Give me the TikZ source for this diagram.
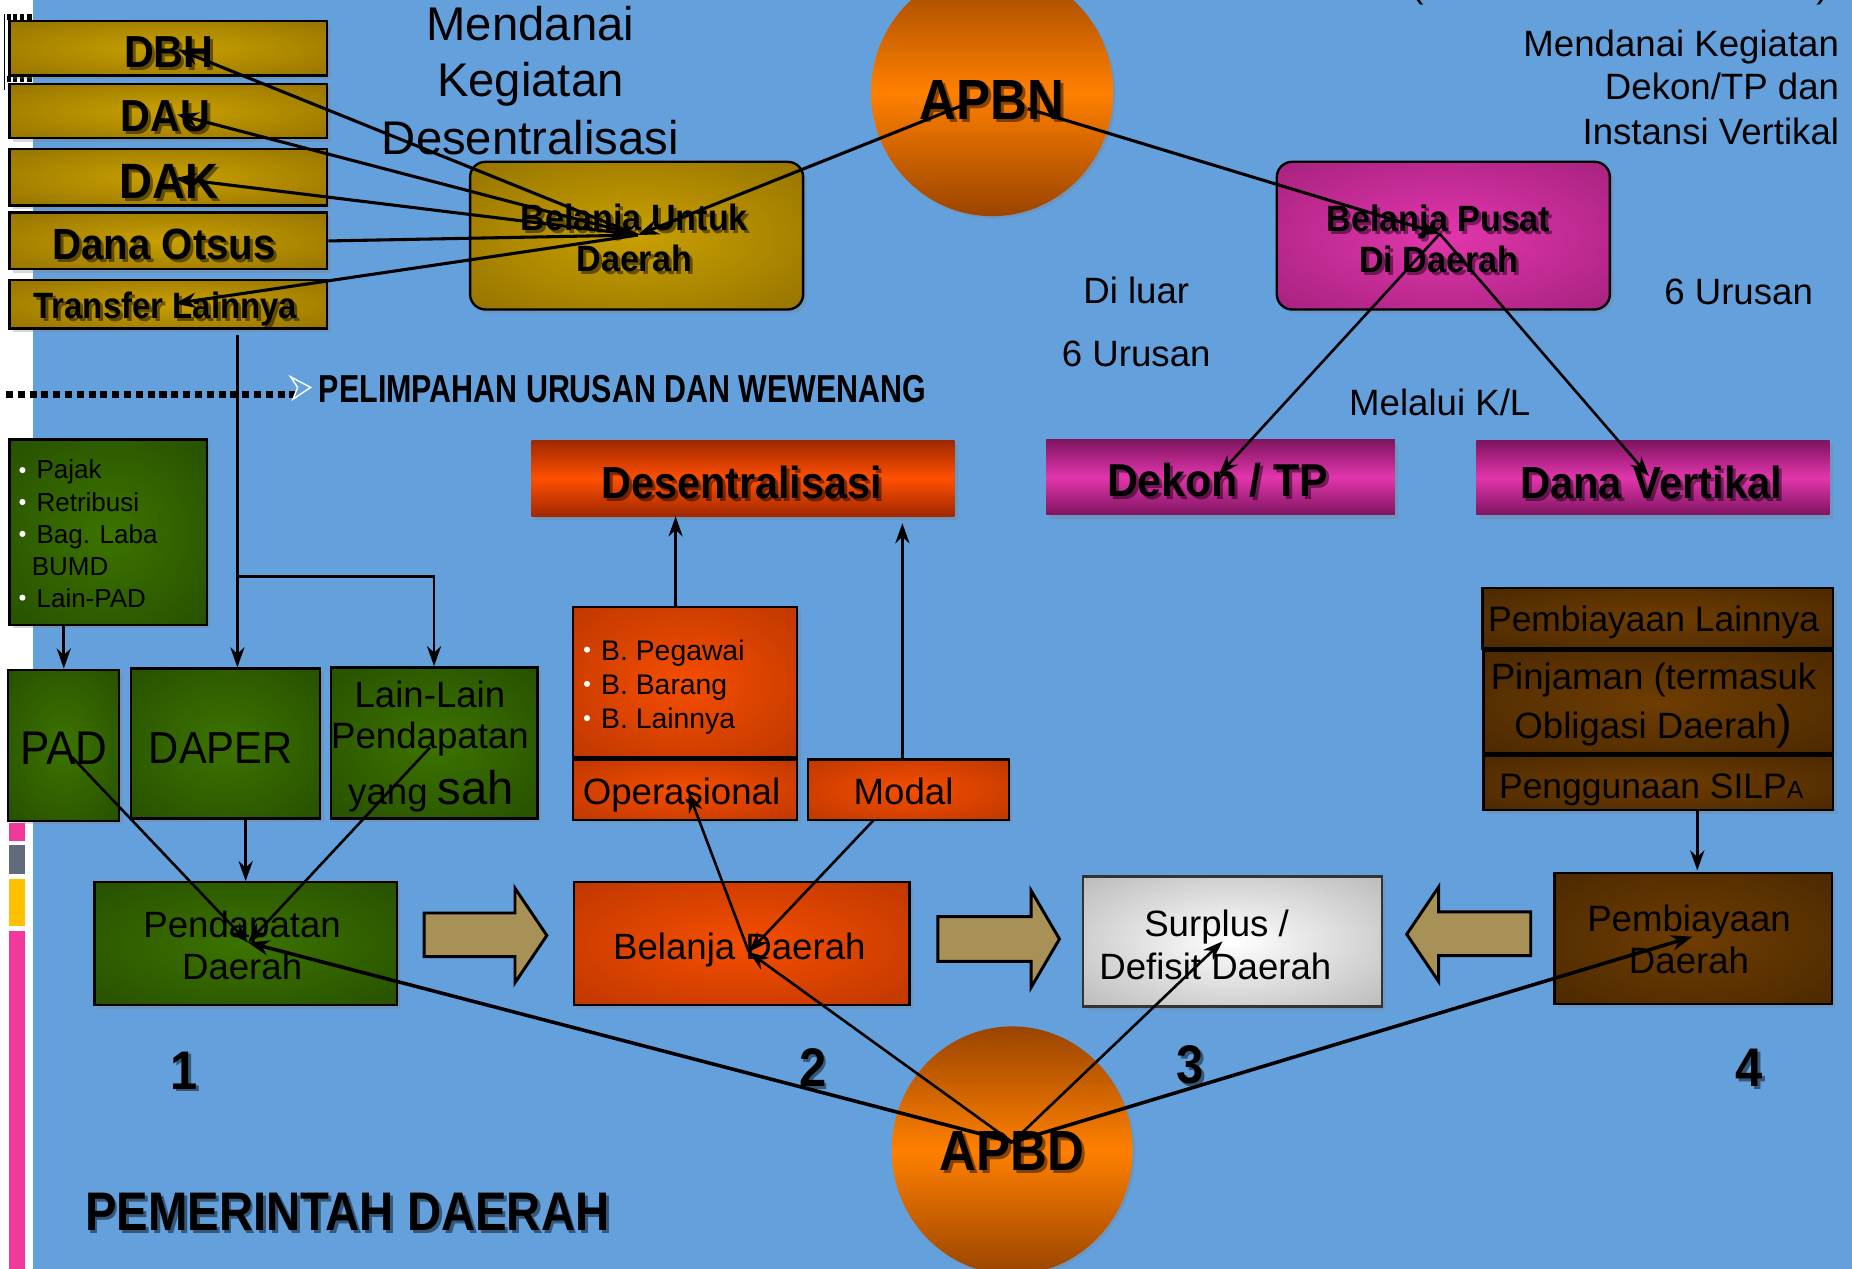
\documentclass[tikz,border=0pt]{standalone}
\usepackage{fontspec}
\setmainfont{Liberation Sans}
\usepackage{graphicx}
\usetikzlibrary{shadows,arrows.meta,calc,shapes.geometric}

\definecolor{bgblue}{HTML}{64A0DC}
\definecolor{goldC}{HTML}{C9A000}
\definecolor{goldE}{HTML}{7A5C00}
\definecolor{greenC}{HTML}{3C7300}
\definecolor{greenE}{HTML}{1C3E00}
\definecolor{oranC}{HTML}{F54E00}
\definecolor{oranE}{HTML}{9A2800}
\definecolor{brownC}{HTML}{6E3D02}
\definecolor{brownE}{HTML}{3A1E00}
\definecolor{magC}{HTML}{E236AC}
\definecolor{magE}{HTML}{7E1460}
\definecolor{greyC}{HTML}{FFFFFF}
\definecolor{greyE}{HTML}{8C8C8C}
\definecolor{ellC}{HTML}{FF8000}
\definecolor{ellE}{HTML}{9A4400}
\definecolor{desC}{HTML}{FF5000}
\definecolor{desE}{HTML}{A02800}
\definecolor{tan}{HTML}{A89157}
\definecolor{barpink}{HTML}{F0399A}
\definecolor{bargrey}{HTML}{5F6B7A}
\definecolor{baryel}{HTML}{FFC000}

\pgfdeclareradialshading{goldglow}{\pgfpoint{0bp}{0bp}}{color(0bp)=(goldC); color(55bp)=(goldE); color(80bp)=(goldE)}
\pgfdeclareradialshading{greenglow}{\pgfpoint{0bp}{0bp}}{color(0bp)=(greenC); color(55bp)=(greenE); color(80bp)=(greenE)}
\pgfdeclareradialshading{oranglow}{\pgfpoint{0bp}{0bp}}{color(0bp)=(oranC); color(60bp)=(oranE); color(80bp)=(oranE)}
\pgfdeclareradialshading{brownglow}{\pgfpoint{0bp}{0bp}}{color(0bp)=(brownC); color(55bp)=(brownE); color(80bp)=(brownE)}
\pgfdeclareradialshading{magglow}{\pgfpoint{0bp}{0bp}}{color(0bp)=(magC); color(60bp)=(magE); color(80bp)=(magE)}
\pgfdeclareradialshading{greyglow}{\pgfpoint{0bp}{0bp}}{color(0bp)=(greyC); color(60bp)=(greyE); color(80bp)=(greyE)}

\newcommand\fsz[1]{\fontsize{#1}{#1}\selectfont}
% shadowed label: [opts]{name}{x}{y}{text}
\newcommand\shl[5][]{%
  \node[tx,#1,text=black,opacity=0.45] at (#3+2.5,#4+2.5) {#5};
  \node[tx,#1] (#2) at (#3,#4) {#5};}

\tikzset{
  tx/.style={anchor=base, inner sep=0pt, outer sep=0pt},
  boxbase/.style={rectangle, draw=black, line width=2pt, inner sep=0pt, shade,
     drop shadow={opacity=0.3, shadow xshift=3pt, shadow yshift=-3pt}},
  goldbox/.style={boxbase, shading=goldglow},
  greenbox/.style={boxbase, shading=greenglow},
  oranbox/.style={boxbase, shading=oranglow},
  brownbox/.style={boxbase, shading=brownglow},
  magbox/.style={boxbase, shading=magglow},
  greybox/.style={boxbase, shading=greyglow, draw=black!80},
  bandbox/.style={rectangle, inner sep=0pt, draw=none,
     drop shadow={opacity=0.3, shadow xshift=3pt, shadow yshift=-3pt}},
  magband/.style={bandbox, top color=magE, bottom color=magE, middle color=magC},
  desband/.style={bandbox, top color=desE, bottom color=desE, middle color=desC},
  ellnode/.style={ellipse, inner sep=0pt, top color=ellE, bottom color=ellE, middle color=ellC,
     drop shadow={opacity=0.3, shadow xshift=2pt, shadow yshift=-2pt}},
  blockarrow/.style={fill=tan, draw=black, line width=2.5pt, line join=miter},
  conn/.style={line width=2.6pt, -{Stealth[length=18pt,width=13pt]}},
  conn2/.style={line width=2.2pt, -{Stealth[length=17pt,width=12pt]}},
  connB/.style={line width=3pt, -{Stealth[length=18pt,width=13pt]}},
}

\begin{document}
\begin{tikzpicture}[x=1pt,y=-1pt]
\path[use as bounding box] (0,0) rectangle (1568,1074);
\clip (0,0) rectangle (1568,1074);
\fill[bgblue] (0,0) rectangle (1568,1074);
\fill[white] (0,0) rectangle (28,1074);
% left bars
\fill[barpink] (8,697) rectangle (21,712);
\fill[bargrey] (8,715) rectangle (21,740);
\fill[baryel] (8,744) rectangle (21,784);
\fill[barpink] (8,788) rectangle (21,1074);
% top-left marks
\draw[line width=0.8pt] (4,12) -- (4,76);
\foreach \yy in {12,64}{
  \fill (6,\yy) rectangle (9,\yy+5);
  \fill (11,\yy) rectangle (14,\yy+5);
  \fill (17,\yy) rectangle (20,\yy+5);
  \fill (23,\yy) rectangle (27,\yy+5);}
% partial top line of text
\node[tx,font=\fsz{31}] (parL) at (1200,-2) {(};
\node[tx,font=\fsz{31}] (parR) at (1543,-2) {)};

% ---------- top texts
\node[tx,font=\fsz{40}] (md1) at (449,34) {Mendanai};
\node[tx,font=\fsz{40}] (md2) at (449,82) {Kegiatan};
\node[tx,font=\fsz{40}] (md3) at (449,131) {Desentralisasi};
\node[tx,font=\fsz{31},anchor=base east] (mr1) at (1557,48) {Mendanai Kegiatan};
\node[tx,font=\fsz{31},anchor=base east] (mr2) at (1557,84) {Dekon/TP dan};
\node[tx,font=\fsz{31},anchor=base east] (mr3) at (1557,122) {Instansi Vertikal};
\node[tx,font=\fsz{31}] (dl1) at (962,257) {Di luar};
\node[tx,font=\fsz{31}] (dl2) at (962,310) {6 Urusan};
\node[tx,font=\fsz{31}] (ur6) at (1472,258) {6 Urusan};
\node[tx,font=\fsz{31}] (mkl) at (1219,352) {Melalui K/L};

% ---------- gold boxes
\node[goldbox, minimum width=269, minimum height=46] (dbh) at (142.5,41) {};
\node[goldbox, minimum width=269, minimum height=46] (dau) at (142.5,94) {};
\node[goldbox, minimum width=269, minimum height=48] (dak) at (142.5,150) {};
\node[goldbox, minimum width=269, minimum height=48] (otsus) at (142.5,204) {};
\node[goldbox, minimum width=269, minimum height=41] (trf) at (142.5,257.5) {};
\shl[font=\bfseries\fsz{38}]{ldbh}{143}{57}{\scalebox{0.92}[1]{DBH}}
\shl[font=\bfseries\fsz{38}]{ldau}{140}{111}{\scalebox{0.92}[1]{DAU}}
\shl[font=\bfseries\fsz{42}]{ldak}{143}{168}{\scalebox{0.92}[1]{DAK}}
\shl[font=\bfseries\fsz{37}]{lots}{139}{220}{\scalebox{0.92}[1]{Dana Otsus}}
\shl[font=\bfseries\fsz{31}]{ltrf}{140}{270}{\scalebox{0.9}[1]{Transfer Lainnya}}

\node[goldbox, rounded corners=13, minimum width=282, minimum height=125] (bud) at (539,199.5) {};
\shl[font=\bfseries\fsz{31}]{lbud1}{537}{195}{\scalebox{0.93}[1]{Belanja Untuk}}
\shl[font=\bfseries\fsz{31}]{lbud2}{537}{230}{\scalebox{0.93}[1]{Daerah}}

% APBN
\node[ellnode, minimum width=205, minimum height=210] (apbn) at (840,78) {};
\shl[font=\bfseries\fsz{48}]{lapbn}{840}{101}{\scalebox{0.9}[1]{APBN}}

% Belanja pusat
\node[magbox, rounded corners=13, minimum width=282, minimum height=125] (bpus) at (1222,199.5) {};
\shl[font=\bfseries\fsz{31}]{lbp1}{1218}{196}{\scalebox{0.93}[1]{Belanja Pusat}}
\shl[font=\bfseries\fsz{31}]{lbp2}{1218}{231}{\scalebox{0.93}[1]{Di Daerah}}

\node[magband, minimum width=295, minimum height=64] (dekon) at (1033.5,404) {};
\shl[font=\bfseries\fsz{39}]{ldek}{1031}{420}{\scalebox{0.93}[1]{Dekon / TP}}
\node[magband, minimum width=299, minimum height=63] (dver) at (1399.5,404.5) {};
\shl[font=\bfseries\fsz{38}]{ldv}{1398}{422}{\scalebox{0.93}[1]{Dana Vertikal}}

% dotted line
\draw[line width=6pt, dash pattern=on 6pt off 4pt] (5,334) -- (250,334);
\draw[white, line width=1.2pt, fill=bgblue] (246,319) -- (263,328) -- (248,338) -- (252,328) -- cycle;
\node[tx,font=\bfseries\fsz{33},anchor=base west] (pel) at (270,341) {\scalebox{0.78}[1]{PELIMPAHAN URUSAN DAN WEWENANG}};

% ---------- green
\node[greenbox, minimum width=167, minimum height=157] (pajak) at (91.5,450.5) {};
\foreach \yy in {398,425,452,506} \fill[white] (19,\yy) circle (2.6);
\node[tx,font=\fsz{22},anchor=base west] (pj1) at (31,405) {Pajak};
\node[tx,font=\fsz{22},anchor=base west] (pj2) at (31,433) {Retribusi};
\node[tx,font=\fsz{22},anchor=base west] (pj3) at (31,460) {Bag. Laba};
\node[tx,font=\fsz{22},anchor=base west] (pj4) at (27,487) {BUMD};
\node[tx,font=\fsz{22},anchor=base west] (pj5) at (31,514) {Lain-PAD};

\node[greenbox, minimum width=94, minimum height=128] (pad) at (54,631) {};
\node[tx,font=\fsz{40}] (lpad) at (54,647) {\scalebox{0.93}[1]{PAD}};
\node[greenbox, minimum width=160, minimum height=127] (daper) at (191,629.5) {};
\node[tx,font=\fsz{38}] (ldaper) at (187,646) {\scalebox{0.93}[1]{DAPER}};
\node[greenbox, minimum width=175, minimum height=128] (lain) at (367.5,629) {};
\node[tx,font=\fsz{31}] (ll1) at (364,599) {Lain-Lain};
\node[tx,font=\fsz{31}] (ll2) at (364,634) {Pendapatan};
\node[tx] (ll3) at (365,681) {{\fsz{31}yang }{\fsz{40}sah}};

\node[greenbox, minimum width=256, minimum height=104] (pend) at (208,799) {};
\node[tx,font=\fsz{31}] (pd1) at (205,794) {Pendapatan};
\node[tx,font=\fsz{31}] (pd2) at (205,829) {Daerah};

% ---------- orange
\node[desband, minimum width=358, minimum height=64] (desen) at (629,405) {};
\shl[font=\bfseries\fsz{38}]{ldes}{628}{422}{\scalebox{0.92}[1]{Desentralisasi}}
\node[oranbox, minimum width=190, minimum height=127] (bpeg) at (580,577.5) {};
\foreach \yy in {550,579,608} \fill[white] (497,\yy) circle (2.6);
\node[tx,font=\fsz{24},anchor=base west] (bl1) at (509,559) {B. Pegawai};
\node[tx,font=\fsz{24},anchor=base west] (bl2) at (509,588) {B. Barang};
\node[tx,font=\fsz{24},anchor=base west] (bl3) at (509,617) {B. Lainnya};
\node[oranbox, minimum width=190, minimum height=51] (oper) at (580,668.5) {};
\node[tx,font=\fsz{31}] (lop) at (577,681) {Operasional};
\node[oranbox, minimum width=170, minimum height=51] (modal) at (769,668.5) {};
\node[tx,font=\fsz{31}] (lmo) at (765,681) {Modal};
\node[oranbox, minimum width=284, minimum height=104] (bel) at (628,799) {};
\node[tx,font=\fsz{31}] (lbel) at (626,812) {Belanja Daerah};

% ---------- grey
\node[greybox, minimum width=253, minimum height=110] (surp) at (1043.5,797) {};
\node[tx,font=\fsz{31}] (ls1) at (1030,793) {Surplus /};
\node[tx,font=\fsz{31}] (ls2) at (1029,829) {Defisit Daerah};

% ---------- brown
\node[brownbox, minimum width=297, minimum height=51] (plain) at (1403.5,523.5) {};
\node[tx,font=\fsz{30}] (lpl) at (1400,535) {Pembiayaan Lainnya};
\node[brownbox, minimum width=296, minimum height=87] (pinj) at (1404,594.5) {};
\node[tx,font=\fsz{31}] (lpj1) at (1400,584) {Pinjaman (termasuk};
\node[tx] (lpj2) at (1400,625) {{\fsz{31}Obligasi Daerah}{\fsz{40})}};
\node[brownbox, minimum width=296, minimum height=46] (silpa) at (1404,663) {};
\node[tx] (lsil) at (1398,676) {{\fsz{30}Penggunaan SILP}{\fsz{21}A}};
\node[brownbox, minimum width=235, minimum height=111] (pemb) at (1433.5,794.5) {};
\node[tx,font=\fsz{31}] (lpm1) at (1430,789) {Pembiayaan};
\node[tx,font=\fsz{31}] (lpm2) at (1430,824) {Daerah};

% ---------- block arrows
\draw[blockarrow] (359,773) -- (436,773) -- (436,752) -- (463,792) -- (436,832) -- (436,810) -- (359,810) -- cycle;
\draw[blockarrow] (794,776) -- (873,776) -- (873,754) -- (897,795) -- (873,836) -- (873,814) -- (794,814) -- cycle;
\draw[blockarrow] (1296,772) -- (1218,772) -- (1218,751) -- (1191,791) -- (1218,831) -- (1218,809) -- (1296,809) -- cycle;

% numbers
\shl[font=\bfseries\fsz{46}]{n1}{156}{922}{\scalebox{0.9}[1]{1}}
\shl[font=\bfseries\fsz{46}]{n2}{688}{920}{\scalebox{0.9}[1]{2}}
\shl[font=\bfseries\fsz{46}]{n3}{1008}{917}{\scalebox{0.9}[1]{3}}
\shl[font=\bfseries\fsz{46}]{n4}{1481}{920}{\scalebox{0.9}[1]{4}}

% APBD
\node[ellnode, minimum width=204, minimum height=210] (apbd) at (857,974) {};
\shl[font=\bfseries\fsz{48}]{lapbd}{857}{991}{\scalebox{0.9}[1]{APBD}}

\shl[font=\bfseries\fsz{46},anchor=base west]{pemda}{72}{1042}{\scalebox{0.87}[1]{PEMERINTAH DAERAH}}

% ---------- connectors
\coordinate (hubU) at (540,199);
\coordinate (tDBH) at (151,42);
\coordinate (tDAU) at (150,97);
\coordinate (tDAK) at (148,151);
\coordinate (tTRF) at (148,257);
\coordinate (apbnL) at (823,86);
\coordinate (apbnR) at (870,92);
\coordinate (hubP) at (1219,198);
\coordinate (tDEK) at (1032,402);
\coordinate (tDVR) at (1396,403);
\draw[conn] (hubU) -- (tDBH);
\draw[conn] (hubU) -- (tDAU);
\draw[conn] (hubU) -- (tDAK);
\draw[conn] (hubU) -- (tTRF);
\draw[line width=2.6pt] (hubU) -- (otsus.east);
\draw[conn] (apbnL) -- (hubU);
\draw[conn] (apbnR) -- (hubP);
\draw[conn2] (hubP) -- (tDEK);
\draw[conn2] (hubP) -- (tDVR);

\coordinate (trf0) at (201,284);
\coordinate (jn) at (201,488);
\draw[conn2] (trf0) -- (trf0 |- daper.north);
\draw[conn2] (jn) -| (lain.north);
\draw[conn2] (pajak.south -| pad.north) -- (pad.north);
\draw[conn2] (pend.north |- daper.south) -- (pend.north);
\coordinate (bp0) at (572,514);
\draw[conn2] (bp0) -- (bp0 |- desen.south);
\coordinate (md0) at (764,643);
\coordinate (mdT) at (764,443);
\draw[conn2] (md0) -- (mdT);
\coordinate (sl0) at (1437,686);
\coordinate (slT) at (1437,737);
\draw[conn2] (sl0) -- (slT);

\coordinate (apbdH) at (857,967);
\coordinate (hubPD) at (210,798);
\coordinate (hubBD) at (634,806);
\coordinate (tPAD) at (61,641);
\coordinate (tLAIN) at (364,633);
\coordinate (tOPR) at (583,671);
\coordinate (mdB) at (740,694);
\coordinate (tSUR) at (1035,797);
\coordinate (tPMB) at (1433,793);
\draw[connB] (apbdH) -- (hubPD);
\draw[conn2] (tPAD) -- (hubPD);
\draw[conn2] (tLAIN) -- (hubPD);
\draw[conn2] (apbdH) -- (hubBD);
\draw[conn2] (mdB) -- (hubBD);
\draw[conn2] (hubBD) -- (tOPR);
\draw[conn2] (apbdH) -- (tSUR);
\draw[connB] (apbdH) -- (tPMB);
\end{tikzpicture}
\end{document}
